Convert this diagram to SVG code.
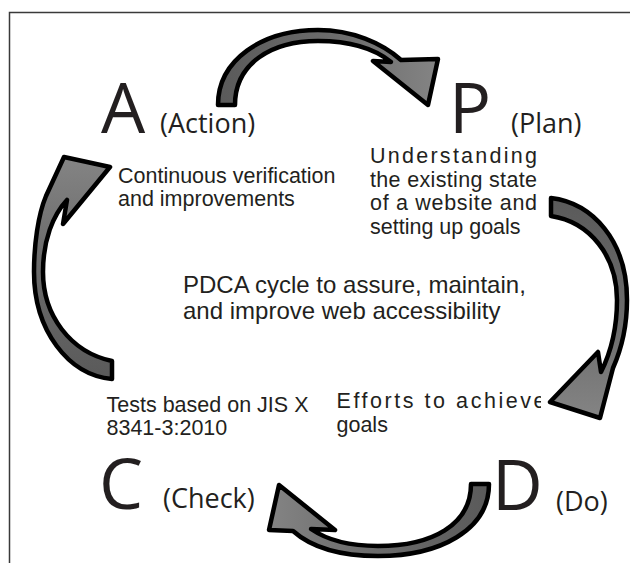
<svg xmlns="http://www.w3.org/2000/svg" width="630" height="563" viewBox="0 0 630 563">
  <defs>
    <style>
      .frame { fill: none; stroke: #3a3a3a; stroke-width: 1.5; }
      .big { font-family: "Open Sans", "Liberation Sans", sans-serif; font-size: 70px; fill: #231f20; }
      .tag { font-family: "Open Sans", "Liberation Sans", sans-serif; font-size: 27px; fill: #231f20; }
      .desc { font-family: "Liberation Sans", Arial, sans-serif; font-size: 21.5px; fill: #231f20; }
      .title { font-family: "Liberation Sans", Arial, sans-serif; font-size: 24px; fill: #231f20; }
      .arrow { stroke: #000; stroke-width: 4.5; stroke-linejoin: round; }
    </style>
    <linearGradient id="gLR" x1="0" y1="0" x2="1" y2="0">
      <stop offset="0" stop-color="#5a5a5a"/>
      <stop offset="0.6" stop-color="#6e6e6e"/>
      <stop offset="1" stop-color="#848484"/>
    </linearGradient>
    <linearGradient id="gTB" x1="0" y1="0" x2="0" y2="1">
      <stop offset="0" stop-color="#5a5a5a"/>
      <stop offset="0.6" stop-color="#6e6e6e"/>
      <stop offset="1" stop-color="#848484"/>
    </linearGradient>
    <linearGradient id="gRL" x1="1" y1="0" x2="0" y2="0">
      <stop offset="0" stop-color="#5a5a5a"/>
      <stop offset="0.6" stop-color="#6e6e6e"/>
      <stop offset="1" stop-color="#848484"/>
    </linearGradient>
    <linearGradient id="gBT" x1="0" y1="1" x2="0" y2="0">
      <stop offset="0" stop-color="#5a5a5a"/>
      <stop offset="0.6" stop-color="#6e6e6e"/>
      <stop offset="1" stop-color="#848484"/>
    </linearGradient>
    <clipPath id="clipDo">
      <rect x="300" y="380" width="241" height="70"/>
    </clipPath>
  </defs>

  <!-- outer frame (top and left edges) -->
  <path class="frame" d="M9.5,563 V12.5 H630"/>

  <!-- curved block arrows of the cycle -->
  <g id="connectors">
    <!-- Action -> Plan -->
    <path class="arrow" fill="url(#gLR)" d="M218,105 C218,60 262,30 318,30 C352,30 382,43 401,60 L438,59 L428,105 L373,61 L391,62 C375,49 350,41 318,41 C272,41 235,63 235,105 Z"/>
    <!-- Plan -> Do -->
    <path class="arrow" fill="url(#gTB)" d="M551,198 C592,203 627,240 627,300 C627,330 621,350 613,368 L600,418 L550,402 L598,352 L601,372 C611,352 617,328 617,300 C617,256 590,222 551,216 Z"/>
    <!-- Do -> Check -->
    <path class="arrow" fill="url(#gRL)" d="M489,484 C489,530 440,556 378,556 C340,556 311,547 293,531 L269,530 L279,485 L335,530 L311,529 C330,542 352,546 378,546 C432,546 471,525 471,484 Z"/>
    <!-- Check -> Action -->
    <path class="arrow" fill="url(#gBT)" d="M112,361 C70,352 43,315 43,272 C43,240 53,215 67,200 L63,224 L110,167 L64,157 L46,196 C38,215 34,245 34,272 C34,330 68,375 112,379 Z"/>
  </g>

  <!-- Action -->
  <g id="node-action">
    <text class="big" x="101" y="133">A</text>
    <text class="tag" x="160" y="133">(Action)</text>
    <text class="desc" x="118" y="183">Continuous verification</text>
    <text class="desc" x="118" y="206">and improvements</text>
  </g>

  <!-- Plan -->
  <g id="node-plan">
    <text class="big" x="449" y="133">P</text>
    <text class="tag" x="511" y="133">(Plan)</text>
    <text class="desc" x="370" y="163" textLength="167" lengthAdjust="spacing">Understanding</text>
    <text class="desc" x="370" y="187" textLength="167" lengthAdjust="spacing">the existing state</text>
    <text class="desc" x="370" y="210" textLength="167" lengthAdjust="spacing">of a website and</text>
    <text class="desc" x="370" y="234">setting up goals</text>
  </g>

  <!-- Do -->
  <g id="node-do">
    <text class="big" x="492" y="510">D</text>
    <text class="tag" x="556" y="511">(Do)</text>
    <text class="desc" x="336.5" y="408" textLength="209" lengthAdjust="spacing" clip-path="url(#clipDo)">Efforts to achieve</text>
    <text class="desc" x="336.5" y="432">goals</text>
  </g>

  <!-- Check -->
  <g id="node-check">
    <text class="big" x="99" y="509">C</text>
    <text class="tag" x="163" y="508">(Check)</text>
    <text class="desc" x="106.5" y="412">Tests based on JIS X</text>
    <text class="desc" x="106.5" y="435">8341-3:2010</text>
  </g>

  <!-- centre caption -->
  <g id="caption">
    <text class="title" x="183" y="292.5">PDCA cycle to assure, maintain,</text>
    <text class="title" x="183" y="318.5">and improve web accessibility</text>
  </g>
</svg>
